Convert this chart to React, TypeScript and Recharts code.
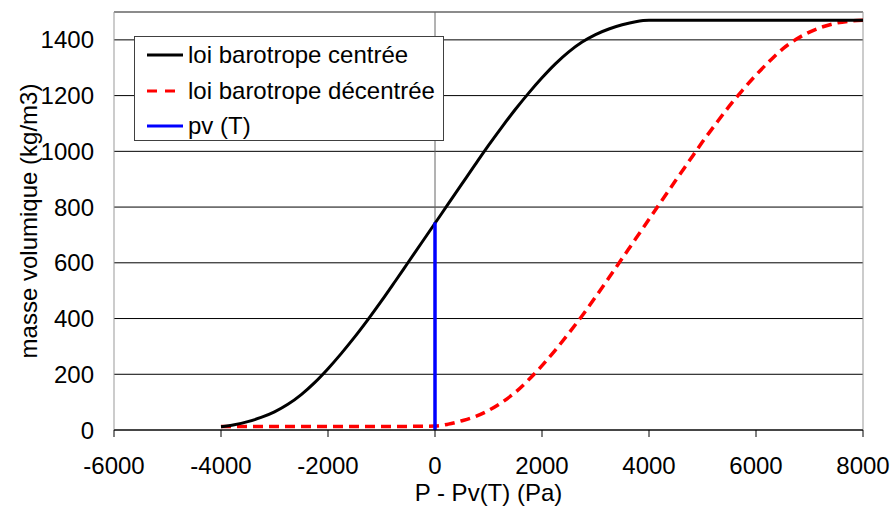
import React from 'react';
import { LineChart, Line, XAxis, YAxis, CartesianGrid, ReferenceLine, ReferenceArea, Legend } from 'recharts';

// loi barotrope centrée
const pressureCentree = [
  -4000, -3750, -3500, -3250, -3000, -2750, -2500, -2250, -2000, -1750, -1500, -1250, -1000, -750, -500, -250,
  0, 250, 500, 750, 1000, 1250, 1500, 1750, 2000, 2250, 2500, 2750, 3000, 3250, 3500, 3750, 4000, 8000,
];
const rhoCentree = [
  12, 19, 30, 45, 65, 92, 127, 170, 220, 275, 334, 397, 463, 532, 602, 672,
  742, 812, 882, 952, 1021, 1087, 1150, 1209, 1264, 1314, 1357, 1392, 1419, 1439, 1454, 1465, 1470, 1470,
];

// loi barotrope décentrée
const pressureDecentree = [
  -4000, -3000, -2000, -1000, -500, 0, 250, 500, 750, 1000, 1250, 1500, 1750, 2000, 2250, 2500, 2750, 3000,
  3250, 3500, 3750, 4000, 4250, 4500, 4750, 5000, 5250, 5500, 5750, 6000, 6250, 6500, 6750, 7000, 7250, 7500,
  7750, 8000,
];
const rhoDecentree = [
  13, 13, 13, 13, 13, 14, 21, 33, 48, 70, 99, 135, 180, 231, 287, 347, 410, 477,
  546, 616, 686, 756, 826, 896, 965, 1034, 1099, 1162, 1220, 1274, 1323, 1368, 1402, 1428, 1447, 1460,
  1467, 1470,
];

// pv (T)
const pressurePv = [0, 0];
const rhoPv = [0, 745];

const xTicks = [-6000, -4000, -2000, 0, 2000, 4000, 6000, 8000];
const yTicks = [0, 200, 400, 600, 800, 1000, 1200, 1400];

const legendItems = [
  { name: 'loi barotrope centrée', color: '#000000', dash: undefined },
  { name: 'loi barotrope décentrée', color: '#ff0000', dash: '10 8' },
  { name: 'pv (T)', color: '#0000ff', dash: undefined },
];

const centreeData = pressureCentree.map((x, i) => ({ x, y: rhoCentree[i] }));
const decentreeData = pressureDecentree.map((x, i) => ({ x, y: rhoDecentree[i] }));
const pvData = pressurePv.map((x, i) => ({ x, y: rhoPv[i] }));

const font = '"Liberation Sans", Arial, sans-serif';
const fs = 24;

const renderLegend = () => (
  <div style={{ border: '1px solid #404040', background: '#fff', width: 310, height: 105, boxSizing: 'border-box', fontFamily: font, fontSize: fs, color: '#000' }}>
    {legendItems.map((item, i) => (
      <div key={item.name} style={{ position: 'absolute', left: 0, top: 19 + i * 35.5 - 14, height: 28, display: 'flex', alignItems: 'center' }}>
        <svg width={54} height={28}>
          <line x1={13} x2={49} y1={14} y2={14} stroke={item.color} strokeWidth={3} strokeDasharray={item.dash} />
        </svg>
        <span style={{ whiteSpace: 'nowrap' }}>{item.name}</span>
      </div>
    ))}
  </div>
);

export default function App() {
  return (
    <div style={{ position: 'absolute', left: 0, top: 0, background: '#fff' }}>
      <LineChart width={893} height={508} margin={{ top: 12, right: 30, left: 0, bottom: 0 }}>
        <ReferenceArea x1={-6000} x2={8000} y1={0} y2={1500} fill="none" stroke="#999" strokeWidth={1} ifOverflow="extendDomain" />
        <CartesianGrid vertical={false} stroke="#000" strokeWidth={1} />
        <XAxis
          type="number"
          dataKey="x"
          domain={[-6000, 8000]}
          ticks={xTicks}
          allowDataOverflow
          height={78}
          stroke="#000"
          tickSize={7}
          tickMargin={20}
          tick={{ fill: '#000', fontSize: fs, fontFamily: font }}
          label={{ value: 'P - Pv(T) (Pa)', position: 'center', dy: 23, fill: '#000', fontSize: fs, fontFamily: font }}
        />
        <YAxis
          type="number"
          dataKey="y"
          domain={[0, 1500]}
          ticks={yTicks}
          allowDataOverflow
          width={114}
          axisLine={false}
          tickLine={false}
          tickSize={6}
          tickMargin={14}
          tick={{ fill: '#000', fontSize: fs, fontFamily: font }}
          label={{ value: 'masse volumique (kg/m3)', angle: -90, position: 'center', dx: -29, fill: '#000', fontSize: fs, fontFamily: font }}
        />
        <ReferenceLine x={0} stroke="#666" strokeWidth={1} />
        <Legend
          layout="horizontal"
          verticalAlign="middle"
          align="center"
          content={renderLegend}
          wrapperStyle={{ left: 134, top: 36, width: 310, height: 105 }}
        />
        <Line data={decentreeData} dataKey="y" name="loi barotrope décentrée" type="monotone" stroke="#ff0000" strokeWidth={3.5} strokeDasharray="10 6" dot={false} isAnimationActive={false} />
        <Line data={centreeData} dataKey="y" name="loi barotrope centrée" type="monotone" stroke="#000000" strokeWidth={3} dot={false} isAnimationActive={false} />
        <Line data={pvData} dataKey="y" name="pv (T)" type="linear" stroke="#0000ff" strokeWidth={3.5} dot={false} isAnimationActive={false} />
      </LineChart>
    </div>
  );
}
